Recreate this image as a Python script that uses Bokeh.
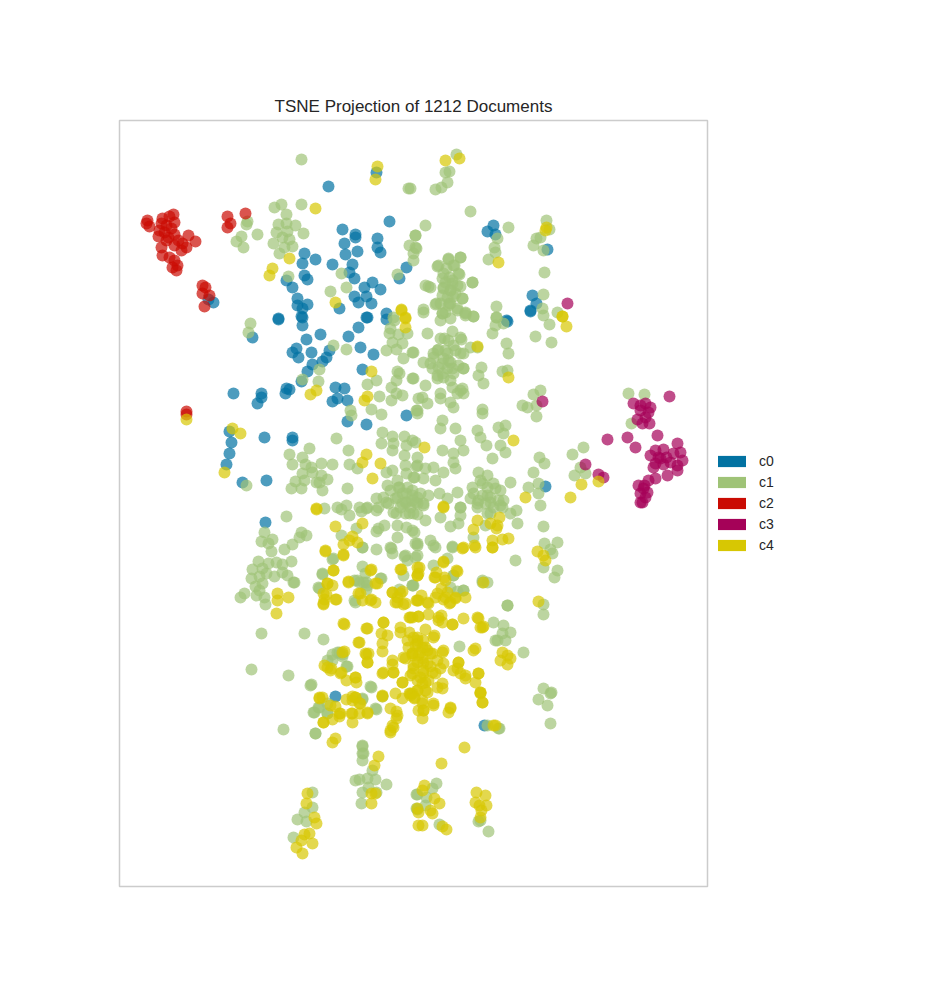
from bokeh.plotting import figure
from bokeh.models import Range1d, Legend, LegendItem
from bokeh.embed import file_html
from bokeh.resources import INLINE

# t-SNE coordinates (x right, y down)
labels = ["c0", "c1", "c2", "c3", "c4"]
colors = ["#0272a2", "#9fc377", "#ca0b03", "#a50258", "#d7c703"]

c0_points = [
    (376,172),(328,186),(389,221),(342,229),(355,234),(355,237),(377,238),(344,243),(357,251),(345,254),
    (304,253),(302,263),(315,259),(332,264),(352,264),(349,272),(354,278),(380,252),(377,247),(406,267),
    (399,278),(304,275),(307,279),(286,280),(292,287),(364,287),(372,282),(380,289),(366,296),(358,302),
    (371,303),(354,296),(297,298),(297,305),(307,304),(302,308),(339,308),(278,318),(301,316),(366,317),
    (386,313),(208,299),(213,302),(493,225),(487,231),(495,234),(547,249),(532,295),(536,303),(530,310),
    (506,320),(278,319),(302,317),(302,325),(252,337),(320,334),(348,336),(358,327),(367,317),(386,319),
    (296,348),(292,352),(298,357),(311,352),(306,339),(329,350),(326,357),(322,361),(312,364),(307,371),
    (301,381),(360,347),(373,354),(362,369),(233,393),(261,393),(261,397),(257,403),(286,388),(289,389),
    (285,393),(335,387),(344,388),(332,401),(337,398),(347,400),(347,421),(366,424),(406,415),(264,437),
    (292,437),(292,440),(229,431),(231,442),(229,453),(226,464),(242,482),(266,480),(507,321),(530,311),
    (545,486),(265,522),(335,696),(484,725),
]

c1_points = [
    # upper left arm
    (247,221),(246,224),(257,234),(241,236),(236,241),(243,247),(274,207),(281,204),(286,214),(301,204),
    (278,224),(286,223),(295,225),(276,232),(287,231),(303,233),(282,237),(289,239),(273,243),(284,247),
    (292,246),(279,253),(301,159),(408,188),(415,235),(409,245),(416,248),(413,260),(397,274),(288,276),
    (341,273),(346,287),(330,291),(393,317),(250,323),(248,332),
    # top
    (456,154),(445,172),(449,171),(447,182),(441,187),(435,189),(410,188),(470,211),(425,225),(415,235),
    (415,247),(413,253),(508,227),(497,238),(494,247),(495,252),(488,259),(546,220),(549,229),(536,238),
    (540,237),(533,245),(543,250),(544,272),(543,294),(542,308),(557,312),(496,306),(496,317),(472,282),
    (428,286),(423,309),(435,304),(449,303),(460,257),(448,259),(437,266),(446,268),(454,265),(459,274),
    (442,278),(449,277),(452,283),(460,286),(443,287),(450,290),(442,295),(453,296),(462,298),(448,305),
    (457,310),(442,313),(473,316),(465,313),
    (438,265),(448,258),(460,257),(453,265),(443,273),(458,273),(445,282),(452,280),(457,285),(443,288),
    (450,290),(455,293),(447,297),(462,298),(440,303),(450,303),(457,308),(465,312),(436,303),(430,287),
    (472,282),(445,312),(440,320),(450,318),
    # left middle
    (333,345),(346,349),(319,369),(302,379),(318,381),(350,410),(351,415),(336,438),(309,448),(289,454),
    (302,457),(305,464),(292,464),(311,467),(321,463),(332,464),(302,473),(312,472),(321,475),(304,480),
    (316,482),(327,479),(295,481),(291,488),(301,488),(322,490),(319,482),(349,464),(357,468),(348,450),
    (347,488),(246,485),(371,409),(381,414),(382,432),(392,436),(381,443),(393,443),(392,450),(404,436),
    (406,445),(412,440),(404,455),(416,466),(405,465),(406,473),(414,477),(392,470),(386,472),(387,485),
    (399,487),(406,493),(397,497),(406,502),(412,490),(376,498),(367,507),(359,507),(396,380),(399,373),
    (412,378),(391,387),(396,393),(402,395),(391,400),(379,396),(367,384),(376,380),(386,350),(396,349),
    (402,343),(392,342),(389,333),(398,334),(407,333),(412,352),(403,358),(397,371),(416,410),(417,413),
    (418,398),(394,320),(390,328),(337,507),(346,505),
    # central field
    (423,312),(442,313),(473,316),(465,315),(496,317),(495,325),(492,333),(503,323),(543,315),(549,324),
    (535,336),(551,342),(427,333),(452,331),(444,338),(461,339),(453,345),(438,349),(447,353),(433,353),
    (413,352),(460,353),(448,360),(442,363),(423,362),(432,368),(452,368),(463,368),(442,373),(437,378),
    (481,367),(470,347),(506,343),(508,353),(502,371),(507,370),(478,375),(483,383),(452,387),(460,390),
    (463,393),(440,393),(422,397),(425,385),(413,378),(440,398),(427,403),(450,402),(453,407),(482,409),
    (482,413),(417,410),(442,420),(440,428),(455,428),(460,440),(477,430),(480,437),(498,427),(505,425),
    (503,433),(486,445),(500,445),(505,452),(492,458),(463,450),(453,453),(442,450),(415,442),(417,457),
    (417,465),(425,468),(433,467),(443,472),(453,462),(455,468),(413,477),(423,478),(435,480),(478,472),
    (487,475),(482,483),(472,487),(493,483),(510,482),(500,490),(487,495),(470,498),(478,500),(490,502),
    (503,500),(428,495),(417,497),(423,503),(447,498),(457,492),(460,507),(439,493),
    (440,338),(448,340),(460,337),(437,350),(445,350),(455,350),(463,353),(433,357),(443,358),(450,362),
    (458,365),(438,367),(447,368),(430,363),(453,373),(443,377),(437,375),(463,368),(450,380),(462,388),
    (457,393),(477,347),(425,285),
    (397,480),(407,487),(390,490),(402,493),(412,495),(395,498),(405,502),(388,503),(400,507),(410,507),
    (393,512),(405,513),(417,503),(383,497),(420,493),(378,507),(398,487),(413,513),
    (480,480),(487,487),(495,488),(482,495),(490,497),(498,500),(485,503),(493,507),(502,507),(487,513),
    (477,507),(473,493),
    # right arm
    (628,393),(644,394),(631,423),(583,447),(572,454),(580,467),(574,475),(585,473),(533,394),(540,390),
    (522,405),(527,407),(536,405),(536,416),(539,457),(544,463),(533,472),(538,483),(528,487),(538,493),
    (540,505),(543,526),(544,543),(557,542),(550,549),(552,553),(515,560),(543,567),(557,570),(554,577),
    (507,605),(543,604),(543,614),(493,622),(503,625),(510,632),(502,633),(495,640),(505,640),(523,652),
    (543,688),(551,692),(459,646),(482,580),(487,582),(453,575),(463,590),(457,591),(450,587),
    (415,502),(423,505),(417,514),(425,520),(440,517),(450,526),(458,523),(460,515),(460,507),(477,503),
    (490,513),(500,505),(510,513),(516,510),(517,523),(485,525),(473,537),(452,546),(430,540),(435,547),
    (415,543),(417,555),(433,565),(413,585),(412,530),
    # lower left
    (286,516),(264,532),(261,541),(272,539),(268,543),(271,551),(284,549),(292,544),(301,532),(306,535),
    (299,537),(258,561),(268,563),(276,562),(282,564),(291,561),(252,569),(262,568),(266,573),(259,576),
    (251,578),(274,576),(282,572),(287,575),(294,582),(255,586),(262,583),(259,590),(244,593),(240,597),
    (256,595),(264,597),(265,604),(261,633),(304,633),(323,639),(251,669),(288,675),(311,684),(324,508),
    (341,509),(349,515),(366,508),(361,511),(378,528),(376,531),(356,528),(341,535),(362,547),(376,549),
    (391,548),(392,553),(404,556),(407,560),(332,559),(322,574),(362,566),(365,573),(359,582),(366,582),
    (381,578),(354,580),(366,589),(319,588),(412,585),(399,589),(354,600),(339,652),(332,654),(342,654),
    (346,666),(327,660),(371,687),(386,502),(376,510),(396,513),(402,503),(409,513),(412,500),(384,525),
    (397,525),(406,527),(414,532),(397,537),(417,543),
    (337,652),(342,656),(332,660),(347,666),(310,685),(370,686),(382,696),(362,699),(375,708),(318,707),
    (327,713),(313,712),(315,733),(362,745),(362,753),(497,640),(482,582),(463,590),(453,575),(507,605),
    (363,582),(357,580),(367,585),(355,602),(380,578),(322,573),(318,587),(293,582),(333,558),(362,547),
    (390,547),(417,545),(433,545),(452,547),(447,558),(405,555),(415,557),(403,575),(412,585),(499,728),
    # bottom
    (283,729),(315,733),(314,712),(319,707),(327,703),(327,713),(362,698),(376,709),(362,746),(363,753),
    (362,760),(372,770),(359,779),(355,780),(367,778),(375,779),(368,787),(386,784),(362,792),(376,792),
    (361,803),(312,792),(312,807),(304,812),(297,819),(306,821),(293,837),(416,794),(417,809),
    (550,693),(538,699),(547,705),(550,723),(487,725),(498,728),(436,783),(432,788),(417,794),(426,797),
    (425,805),(416,808),(439,824),(478,821),(480,820),(488,831),
]

c2_points = [
    (147,220),(146,223),(149,226),(162,218),(169,216),(173,214),(174,222),(166,225),(161,223),(171,228),
    (164,232),(158,236),(168,237),(174,234),(178,240),(188,235),(195,241),(186,247),(181,250),(174,245),
    (161,247),(162,255),(169,257),(174,260),(177,265),(176,270),(172,267),(166,240),(182,243),(159,230),
    (227,216),(245,213),(230,223),(227,227),(202,285),(205,287),(202,293),(209,295),(204,306),
    (186,411),(186,414),
]

c3_points = [
    (669,396),(633,403),(640,405),(645,403),(650,407),(640,410),(648,412),(645,417),(637,419),(642,423),
    (649,423),(657,435),(607,439),(627,437),(635,447),(655,450),(663,449),(677,443),(658,457),(666,457),
    (673,453),(680,452),(655,463),(663,464),(677,465),(682,460),(677,470),(667,475),(655,478),(653,467),
    (638,485),(643,488),(640,493),(647,492),(642,502),(645,497),(585,464),(598,474),(603,477),(542,401),
    (567,303),(640,502),(660,458),(670,462),(650,455),(644,485),(648,480),
]

c4_points = [
    # top and left
    (377,166),(375,179),(315,208),(289,258),(272,268),(269,275),(335,302),(401,309),(405,317),
    (445,160),(459,158),(546,227),(545,230),(498,262),(562,316),(186,419),
    (401,310),(405,318),(405,327),(371,371),(310,394),(316,390),(364,400),(367,396),(232,428),(240,433),
    (224,472),(366,454),(362,462),(380,463),(372,478),(316,508),
    (562,316),(566,326),(477,346),(508,377),(513,440),(424,447),(581,484),(598,481),(525,497),(570,497),
    (443,506),
    # middle band
    (316,509),(335,526),(352,536),(349,540),(343,544),(357,542),(362,523),(325,551),(343,554),(333,570),
    (371,569),(348,581),(327,583),(332,585),(377,583),(358,593),(362,600),(371,599),(375,602),(326,594),
    (324,599),(323,604),(336,599),(277,593),(277,600),(288,597),(276,613),(392,592),(397,597),(402,591),
    (395,602),(403,604),(417,600),(401,569),(417,575),
    (443,507),(477,520),(473,529),(474,545),(462,548),(492,540),(492,547),(502,539),(508,538),(496,528),
    (499,517),(490,523),(497,525),(443,561),(456,570),(436,572),(434,577),(444,577),(417,575),(419,567),
    (483,582),(441,588),(447,592),(421,595),(416,600),(428,603),(435,597),(443,599),(449,603),(455,597),
    (465,597),(538,601),(537,551),(543,555),(545,560),
    (392,592),(400,593),(397,602),(405,603),(418,600),(427,602),(437,593),(445,597),(455,598),(450,602),
    (435,577),(445,580),(457,571),(443,562),(418,573),(417,567),(400,569),(375,583),(370,570),(360,593),
    (370,600),(333,570),(327,583),(323,593),(323,603),(335,599),(343,555),(325,550),(348,582),(463,547),
    (475,547),(492,547),
    # lower mass
    (344,624),(366,628),(383,622),(400,627),(409,617),(381,633),(387,635),(359,642),(382,643),(382,651),
    (366,654),(368,653),(367,662),(392,660),(392,664),(405,658),(412,653),(409,632),(417,640),(344,651),
    (324,665),(331,668),(341,672),(355,677),(356,682),(346,680),(382,673),(393,672),(402,682),(412,673),
    (319,697),(352,696),(382,695),(409,693),
    (412,617),(418,616),(428,614),(441,615),(438,620),(452,624),(463,618),(477,617),(480,627),(483,626),
    (425,629),(434,635),(413,637),(417,643),(422,647),(427,650),(412,653),(418,655),(432,653),(442,652),
    (423,662),(413,665),(430,666),(443,663),(458,662),(457,668),(435,673),(423,673),(417,680),(425,682),
    (453,670),(460,673),(465,678),(475,682),(478,673),(473,650),(502,652),(507,655),(500,660),(510,658),
    (507,664),(480,692),(442,683),(442,688),(417,690),(427,692),(412,693),
    (417,637),(423,640),(415,645),(425,647),(420,652),(412,655),(430,653),(422,658),(417,662),(427,663),
    (413,668),(423,670),(432,672),(420,677),(410,675),(428,680),(422,683),(417,690),(425,690),(437,660),
    (440,668),(408,647),(403,657),(407,640),(400,632),(433,637),(443,650),(437,687),(422,700),(423,710),
    (433,705),(410,693),
    (383,622),(410,617),(418,616),(438,617),(442,622),(452,624),(478,618),(482,627),(475,648),(458,662),
    (465,675),(478,673),(480,692),(482,702),(450,708),(367,628),(358,642),(365,653),(367,662),(383,672),
    (393,672),(402,682),(395,693),(402,698),(390,708),(397,715),(393,727),(390,732),(355,677),(355,697),
    (352,700),(360,703),(340,673),(327,667),(330,670),(342,652),(322,697),(330,705),(323,722),(340,713),
    (352,713),(367,712),(343,623),(495,725),
    # bottom
    (319,698),(335,706),(339,713),(339,716),(323,722),(332,719),(346,699),(355,697),(359,703),(352,722),
    (351,713),(359,713),(367,713),(382,696),(396,711),(396,718),(392,725),(390,730),(332,742),(335,738),
    (378,756),(374,765),(371,793),(375,793),(371,803),(307,793),(306,803),(314,817),(316,823),(309,833),
    (304,834),(301,840),(312,843),(296,847),(302,853),(410,695),(414,698),(418,710),(417,808),(418,825),
    (414,697),(422,703),(423,710),(422,718),(433,703),(450,707),(448,712),(480,693),(482,702),(493,725),
    (464,747),(441,763),(424,785),(422,790),(434,798),(439,803),(418,812),(430,810),(432,813),(422,825),
    (442,826),(446,829),(476,792),(485,795),(475,802),(479,805),(486,805),(481,810),(480,817),
]

all_points = [c0_points, c1_points, c2_points, c3_points, c4_points]

p = figure(
    frame_width=588, frame_height=766,
    x_range=Range1d(119, 707), y_range=Range1d(886, 120),
    output_backend="svg", toolbar_location=None,
    min_border_left=119, min_border_top=120, min_border_right=220, min_border_bottom=88,
)
p.axis.visible = False
p.grid.visible = False
p.outline_line_color = "#cccccc"
p.outline_line_width = 1.5

p.title.text = "TSNE Projection of 1212 Documents"
p.title.align = "center"
p.title.text_font = "Liberation Sans"
p.title.text_font_size = "17px"
p.title.text_font_style = "normal"
p.title.text_color = "#262626"

for col, pts in zip(colors, all_points):
    xs = [pt[0] for pt in pts]
    ys = [pt[1] for pt in pts]
    p.scatter(xs, ys, size=12, fill_color=col, fill_alpha=0.7, line_color=None)

# legend swatches: quads with no drawable extent, only shown in the legend
nan = float("nan")
items = []
for lab, col in zip(labels, colors):
    r = p.quad(left=[nan], right=[nan], top=[nan], bottom=[nan],
               fill_color=col, line_color=None)
    items.append(LegendItem(label=lab, renderers=[r]))

legend = Legend(items=items, location="center_left")
legend.margin = 2
legend.padding = 5
legend.border_line_alpha = 0
legend.background_fill_alpha = 0
legend.glyph_width = 35
legend.glyph_height = 14
legend.spacing = 5
legend.label_standoff = 10
legend.label_text_font = "Liberation Sans"
legend.label_text_font_size = "14px"
legend.label_text_color = "#262626"
p.add_layout(legend, "right")

open("out.html", "w").write(file_html(p, INLINE))
